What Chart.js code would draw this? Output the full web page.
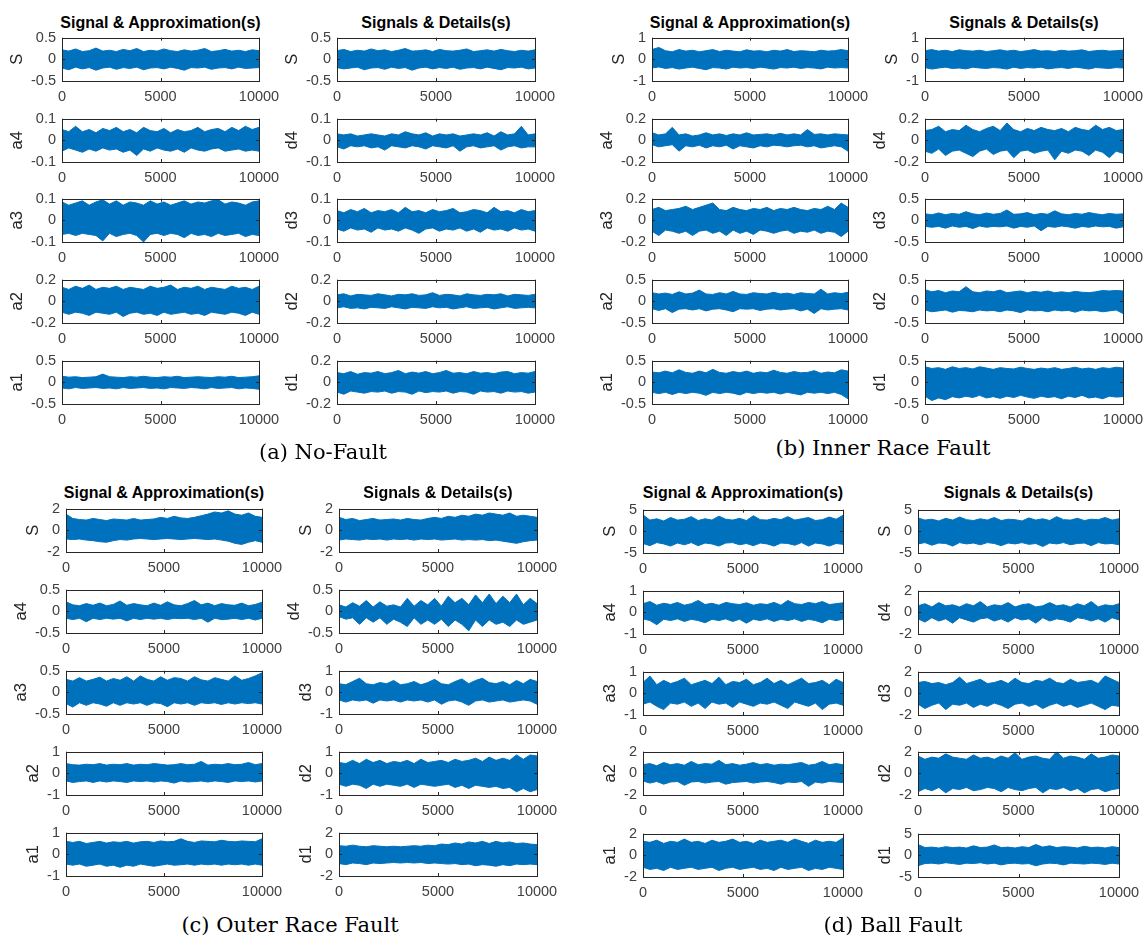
<!DOCTYPE html>
<html>
<head>
<meta charset="utf-8">
<script src="https://cdn.jsdelivr.net/npm/chart.js@4.4.1/dist/chart.umd.min.js"></script>
<style>
    html, body { margin: 0; padding: 0; background: #fff; }
    #fig { position: relative; width: 1146px; height: 938px; overflow: hidden; }
    #fig canvas { position: absolute; }
    .coltitle { position: absolute; font: bold 16px "Liberation Sans", Arial, sans-serif; color: #000; line-height: 20px; white-space: nowrap; transform: translateX(-50%); }
    .caption { position: absolute; font: 21px "DejaVu Serif", serif; color: #000; line-height: 26px; white-space: nowrap; transform: translateX(-50%); }
</style>
</head>
<body>
<div id="fig"></div>
<script>
// ---- axis labels / tick limits ----
const xTicks = [0, 5000, 10000];
const approxLabels = ['S', 'a4', 'a3', 'a2', 'a1'];
const detailLabels = ['S', 'd4', 'd3', 'd2', 'd1'];
const captions = ['(a) No-Fault', '(b) Inner Race Fault', '(c) Outer Race Fault', '(d) Ball Fault'];
const approxTitle = 'Signal & Approximation(s)';
const detailTitle = 'Signals & Details(s)';

const nfALim = [0.5, 0.1, 0.1, 0.2, 0.5];
const nfDLim = [0.5, 0.1, 0.1, 0.2, 0.2];
const irALim = [1, 0.2, 0.2, 0.5, 0.5];
const irDLim = [1, 0.2, 0.5, 0.5, 0.5];
const orALim = [2, 0.5, 0.5, 1, 1];
const orDLim = [2, 0.5, 1, 1, 2];
const bfALim = [5, 1, 1, 2, 2];
const bfDLim = [5, 2, 2, 2, 5];

// ---- signal envelopes (upper / lower), evenly spread over 0..10000 ----
// (a) No-Fault, approximations
const nfA_S_hi = [0.22,0.19,0.24,0.18,0.2,0.26,0.19,0.21,0.18,0.23,0.2,0.25,0.18,0.21,0.19,0.24,0.2,0.18,0.22,0.19,0.21,0.25,0.18,0.2,0.23,0.19,0.21,0.18,0.22,0.2];
const nfA_S_lo = [-0.2,-0.24,-0.18,-0.22,-0.19,-0.25,-0.2,-0.18,-0.23,-0.19,-0.21,-0.18,-0.24,-0.2,-0.19,-0.22,-0.18,-0.21,-0.25,-0.19,-0.2,-0.18,-0.23,-0.2,-0.19,-0.22,-0.18,-0.21,-0.2,-0.19];
const nfA_a4_hi = [0.05,0.04,0.065,0.04,0.05,0.035,0.055,0.045,0.06,0.04,0.05,0.035,0.06,0.045,0.04,0.055,0.035,0.05,0.04,0.045,0.06,0.04,0.05,0.055,0.04,0.06,0.045,0.065,0.05,0.06];
const nfA_a4_lo = [-0.05,-0.035,-0.045,-0.055,-0.04,-0.05,-0.035,-0.045,-0.04,-0.055,-0.045,-0.07,-0.04,-0.05,-0.035,-0.045,-0.05,-0.04,-0.055,-0.035,-0.045,-0.05,-0.04,-0.035,-0.05,-0.045,-0.04,-0.05,-0.045,-0.05];
const nfA_a3_hi = [0.085,0.07,0.08,0.09,0.07,0.085,0.095,0.075,0.09,0.07,0.085,0.08,0.07,0.09,0.075,0.085,0.07,0.08,0.09,0.075,0.085,0.08,0.09,0.095,0.075,0.085,0.08,0.07,0.085,0.09];
const nfA_a3_lo = [-0.065,-0.06,-0.07,-0.06,-0.065,-0.07,-0.095,-0.06,-0.075,-0.065,-0.06,-0.07,-0.1,-0.065,-0.06,-0.07,-0.06,-0.065,-0.08,-0.06,-0.07,-0.065,-0.075,-0.06,-0.07,-0.065,-0.06,-0.075,-0.065,-0.07];
const nfA_a2_hi = [0.13,0.11,0.14,0.12,0.15,0.11,0.13,0.12,0.14,0.11,0.13,0.12,0.11,0.14,0.12,0.13,0.15,0.11,0.13,0.12,0.14,0.11,0.13,0.12,0.11,0.14,0.12,0.13,0.11,0.14];
const nfA_a2_lo = [-0.1,-0.12,-0.1,-0.11,-0.13,-0.1,-0.11,-0.12,-0.1,-0.14,-0.11,-0.1,-0.12,-0.11,-0.13,-0.1,-0.12,-0.11,-0.1,-0.12,-0.11,-0.13,-0.1,-0.11,-0.12,-0.1,-0.11,-0.13,-0.1,-0.12];
const nfA_a1_hi = [0.14,0.12,0.13,0.11,0.12,0.13,0.19,0.13,0.12,0.11,0.13,0.12,0.14,0.12,0.11,0.13,0.12,0.14,0.11,0.12,0.13,0.12,0.11,0.13,0.12,0.14,0.11,0.12,0.13,0.15];
const nfA_a1_lo = [-0.13,-0.15,-0.12,-0.14,-0.13,-0.12,-0.14,-0.13,-0.15,-0.12,-0.14,-0.13,-0.12,-0.14,-0.13,-0.15,-0.12,-0.13,-0.14,-0.12,-0.13,-0.15,-0.12,-0.14,-0.13,-0.12,-0.15,-0.13,-0.14,-0.16];
// (a) No-Fault, details
const nfD_S_hi = [0.2,0.23,0.18,0.21,0.19,0.24,0.2,0.22,0.18,0.21,0.25,0.19,0.2,0.22,0.18,0.23,0.2,0.19,0.21,0.24,0.18,0.2,0.22,0.19,0.23,0.2,0.18,0.21,0.19,0.22];
const nfD_S_lo = [-0.19,-0.22,-0.2,-0.18,-0.24,-0.2,-0.19,-0.23,-0.18,-0.21,-0.19,-0.25,-0.2,-0.18,-0.22,-0.19,-0.21,-0.18,-0.23,-0.2,-0.19,-0.22,-0.18,-0.21,-0.24,-0.19,-0.2,-0.18,-0.22,-0.2];
const nfD_d4_hi = [0.03,0.025,0.03,0.02,0.025,0.03,0.025,0.02,0.03,0.025,0.04,0.03,0.025,0.035,0.02,0.03,0.025,0.03,0.02,0.025,0.03,0.025,0.035,0.02,0.04,0.025,0.03,0.065,0.025,0.03];
const nfD_d4_lo = [-0.03,-0.04,-0.025,-0.03,-0.025,-0.035,-0.03,-0.045,-0.025,-0.03,-0.035,-0.025,-0.03,-0.04,-0.025,-0.03,-0.035,-0.025,-0.05,-0.03,-0.025,-0.035,-0.03,-0.025,-0.045,-0.03,-0.025,-0.035,-0.03,-0.03];
const nfD_d3_hi = [0.045,0.035,0.05,0.04,0.055,0.035,0.045,0.04,0.05,0.035,0.06,0.04,0.045,0.035,0.05,0.04,0.045,0.055,0.035,0.04,0.05,0.045,0.035,0.06,0.04,0.045,0.035,0.05,0.04,0.045];
const nfD_d3_lo = [-0.04,-0.05,-0.035,-0.045,-0.04,-0.055,-0.035,-0.045,-0.04,-0.05,-0.035,-0.045,-0.06,-0.04,-0.035,-0.05,-0.04,-0.045,-0.035,-0.05,-0.04,-0.055,-0.035,-0.045,-0.04,-0.05,-0.035,-0.045,-0.04,-0.05];
const nfD_d2_hi = [0.06,0.07,0.05,0.065,0.06,0.055,0.07,0.06,0.05,0.065,0.06,0.07,0.055,0.06,0.08,0.055,0.065,0.06,0.05,0.07,0.06,0.055,0.065,0.06,0.07,0.05,0.065,0.06,0.055,0.065];
const nfD_d2_lo = [-0.06,-0.05,-0.065,-0.06,-0.07,-0.055,-0.06,-0.065,-0.05,-0.06,-0.07,-0.055,-0.06,-0.065,-0.05,-0.06,-0.055,-0.07,-0.06,-0.05,-0.065,-0.06,-0.055,-0.07,-0.06,-0.05,-0.065,-0.06,-0.055,-0.06];
const nfD_d1_hi = [0.09,0.08,0.1,0.075,0.09,0.085,0.1,0.08,0.09,0.11,0.08,0.095,0.085,0.1,0.08,0.09,0.11,0.085,0.09,0.08,0.1,0.085,0.09,0.08,0.095,0.1,0.08,0.09,0.085,0.1];
const nfD_d1_lo = [-0.09,-0.11,-0.08,-0.09,-0.1,-0.085,-0.09,-0.08,-0.1,-0.085,-0.09,-0.11,-0.08,-0.095,-0.085,-0.09,-0.08,-0.1,-0.085,-0.09,-0.11,-0.08,-0.09,-0.085,-0.1,-0.08,-0.09,-0.085,-0.1,-0.09];

// (b) Inner Race Fault, approximations
const irA_S_hi = [0.45,0.55,0.4,0.35,0.45,0.38,0.42,0.35,0.4,0.45,0.36,0.42,0.38,0.35,0.44,0.38,0.4,0.35,0.42,0.38,0.45,0.36,0.4,0.38,0.35,0.42,0.38,0.4,0.45,0.4];
const irA_S_lo = [-0.4,-0.35,-0.42,-0.38,-0.45,-0.4,-0.36,-0.42,-0.48,-0.38,-0.4,-0.45,-0.36,-0.4,-0.38,-0.42,-0.36,-0.4,-0.45,-0.38,-0.4,-0.36,-0.42,-0.38,-0.4,-0.44,-0.36,-0.4,-0.38,-0.4];
const irA_a4_hi = [0.07,0.05,0.06,0.12,0.05,0.06,0.04,0.05,0.07,0.05,0.06,0.045,0.06,0.05,0.07,0.05,0.055,0.06,0.05,0.065,0.05,0.06,0.05,0.1,0.055,0.06,0.05,0.06,0.055,0.05];
const irA_a4_lo = [-0.04,-0.06,-0.05,-0.04,-0.1,-0.05,-0.06,-0.045,-0.07,-0.05,-0.06,-0.045,-0.08,-0.05,-0.06,-0.07,-0.05,-0.06,-0.045,-0.05,-0.06,-0.05,-0.045,-0.06,-0.05,-0.07,-0.06,-0.05,-0.06,-0.1];
const irA_a3_hi = [0.1,0.12,0.09,0.1,0.11,0.13,0.1,0.12,0.14,0.16,0.1,0.09,0.12,0.1,0.09,0.11,0.1,0.12,0.09,0.11,0.1,0.12,0.1,0.09,0.11,0.1,0.13,0.1,0.16,0.12];
const irA_a3_lo = [-0.1,-0.14,-0.09,-0.1,-0.12,-0.1,-0.14,-0.1,-0.09,-0.12,-0.1,-0.14,-0.09,-0.12,-0.1,-0.13,-0.09,-0.1,-0.12,-0.1,-0.09,-0.12,-0.1,-0.11,-0.09,-0.12,-0.1,-0.11,-0.15,-0.1];
const irA_a2_hi = [0.2,0.17,0.19,0.16,0.22,0.17,0.19,0.26,0.17,0.16,0.2,0.17,0.23,0.17,0.16,0.2,0.18,0.17,0.21,0.17,0.19,0.16,0.2,0.18,0.17,0.28,0.17,0.2,0.18,0.21];
const irA_a2_lo = [-0.17,-0.21,-0.17,-0.26,-0.18,-0.17,-0.2,-0.17,-0.22,-0.18,-0.17,-0.2,-0.24,-0.17,-0.18,-0.17,-0.21,-0.18,-0.17,-0.2,-0.18,-0.17,-0.22,-0.18,-0.28,-0.17,-0.2,-0.18,-0.17,-0.2];
const irA_a1_hi = [0.24,0.22,0.26,0.22,0.29,0.23,0.21,0.26,0.22,0.3,0.23,0.21,0.25,0.22,0.26,0.21,0.24,0.22,0.28,0.23,0.21,0.25,0.22,0.23,0.27,0.21,0.24,0.22,0.29,0.26];
const irA_a1_lo = [-0.23,-0.26,-0.23,-0.28,-0.23,-0.26,-0.23,-0.25,-0.3,-0.23,-0.26,-0.23,-0.25,-0.29,-0.23,-0.26,-0.23,-0.25,-0.23,-0.27,-0.23,-0.26,-0.29,-0.23,-0.25,-0.23,-0.26,-0.23,-0.28,-0.38];
// (b) Inner Race Fault, details
const irD_S_hi = [0.4,0.45,0.38,0.42,0.36,0.44,0.4,0.38,0.42,0.36,0.4,0.44,0.38,0.42,0.36,0.4,0.45,0.38,0.4,0.36,0.42,0.38,0.4,0.44,0.36,0.4,0.42,0.38,0.4,0.42];
const irD_S_lo = [-0.38,-0.45,-0.4,-0.36,-0.42,-0.4,-0.44,-0.36,-0.4,-0.42,-0.38,-0.4,-0.45,-0.36,-0.42,-0.38,-0.4,-0.36,-0.44,-0.4,-0.38,-0.42,-0.36,-0.4,-0.45,-0.38,-0.4,-0.42,-0.38,-0.4];
const irD_d4_hi = [0.09,0.1,0.13,0.08,0.1,0.09,0.14,0.1,0.08,0.11,0.13,0.09,0.16,0.1,0.08,0.11,0.09,0.12,0.1,0.09,0.11,0.08,0.12,0.1,0.09,0.14,0.1,0.12,0.09,0.1];
const irD_d4_lo = [-0.1,-0.12,-0.08,-0.14,-0.1,-0.09,-0.12,-0.15,-0.1,-0.08,-0.13,-0.1,-0.09,-0.16,-0.1,-0.09,-0.12,-0.1,-0.09,-0.18,-0.1,-0.12,-0.09,-0.1,-0.14,-0.09,-0.11,-0.16,-0.1,-0.12];
const irD_d3_hi = [0.15,0.13,0.17,0.13,0.16,0.14,0.2,0.15,0.13,0.17,0.14,0.16,0.24,0.14,0.15,0.18,0.13,0.16,0.14,0.22,0.15,0.13,0.16,0.14,0.18,0.15,0.13,0.16,0.14,0.15];
const irD_d3_lo = [-0.14,-0.16,-0.14,-0.18,-0.13,-0.16,-0.14,-0.19,-0.13,-0.16,-0.14,-0.15,-0.13,-0.18,-0.14,-0.16,-0.13,-0.24,-0.14,-0.16,-0.13,-0.15,-0.18,-0.14,-0.16,-0.13,-0.15,-0.14,-0.18,-0.15];
const irD_d2_hi = [0.27,0.22,0.25,0.2,0.24,0.22,0.34,0.22,0.2,0.24,0.22,0.26,0.2,0.22,0.24,0.2,0.23,0.21,0.24,0.2,0.22,0.2,0.23,0.21,0.2,0.22,0.25,0.24,0.25,0.24];
const irD_d2_lo = [-0.2,-0.24,-0.22,-0.2,-0.25,-0.21,-0.22,-0.24,-0.2,-0.22,-0.21,-0.24,-0.2,-0.22,-0.26,-0.2,-0.22,-0.21,-0.24,-0.2,-0.22,-0.21,-0.25,-0.2,-0.22,-0.21,-0.24,-0.22,-0.2,-0.28];
const irD_d1_hi = [0.36,0.32,0.34,0.3,0.36,0.32,0.34,0.31,0.36,0.33,0.3,0.34,0.32,0.31,0.35,0.32,0.3,0.33,0.31,0.34,0.3,0.32,0.35,0.31,0.33,0.3,0.34,0.32,0.35,0.33];
const irD_d1_lo = [-0.32,-0.42,-0.36,-0.4,-0.33,-0.36,-0.32,-0.35,-0.3,-0.36,-0.33,-0.37,-0.32,-0.35,-0.3,-0.34,-0.37,-0.32,-0.35,-0.33,-0.38,-0.32,-0.35,-0.3,-0.36,-0.34,-0.38,-0.32,-0.34,-0.33];

// (c) Outer Race Fault, approximations
const orA_S_hi = [1.5,1.1,1.0,0.95,1.1,1.0,0.9,1.05,1.0,0.95,1.1,0.95,1.0,1.05,1.2,1.1,1.3,1.15,1.1,1.2,1.35,1.5,1.7,1.6,1.8,1.5,1.4,1.6,1.3,1.2];
const orA_S_lo = [-0.8,-0.85,-0.8,-0.9,-0.95,-1.05,-1.1,-0.95,-0.85,-0.9,-0.8,-0.75,-0.8,-0.85,-0.8,-0.75,-0.8,-0.85,-0.8,-0.75,-0.8,-0.85,-0.8,-0.9,-1.0,-1.2,-1.3,-1.1,-0.95,-1.1];
const orA_a4_hi = [0.22,0.15,0.13,0.18,0.14,0.19,0.13,0.16,0.24,0.14,0.18,0.15,0.13,0.19,0.14,0.22,0.15,0.13,0.18,0.25,0.15,0.19,0.13,0.18,0.15,0.14,0.19,0.13,0.16,0.21];
const orA_a4_lo = [-0.16,-0.19,-0.16,-0.24,-0.16,-0.19,-0.16,-0.18,-0.16,-0.22,-0.16,-0.19,-0.16,-0.18,-0.16,-0.19,-0.16,-0.17,-0.16,-0.19,-0.16,-0.25,-0.16,-0.19,-0.18,-0.16,-0.19,-0.16,-0.2,-0.16];
const orA_a3_hi = [0.3,0.26,0.34,0.26,0.3,0.35,0.26,0.32,0.28,0.36,0.26,0.38,0.3,0.26,0.36,0.28,0.34,0.32,0.26,0.36,0.29,0.26,0.34,0.3,0.26,0.38,0.28,0.32,0.38,0.45];
const orA_a3_lo = [-0.26,-0.34,-0.24,-0.3,-0.24,-0.27,-0.32,-0.24,-0.3,-0.24,-0.27,-0.24,-0.3,-0.24,-0.26,-0.33,-0.24,-0.27,-0.24,-0.3,-0.24,-0.26,-0.24,-0.28,-0.24,-0.27,-0.24,-0.26,-0.24,-0.27];
const orA_a2_hi = [0.45,0.4,0.38,0.42,0.4,0.45,0.38,0.42,0.4,0.45,0.38,0.42,0.4,0.45,0.42,0.38,0.4,0.45,0.4,0.42,0.55,0.38,0.42,0.4,0.45,0.4,0.42,0.5,0.4,0.45];
const orA_a2_lo = [-0.35,-0.42,-0.38,-0.35,-0.42,-0.35,-0.4,-0.35,-0.38,-0.42,-0.35,-0.38,-0.35,-0.4,-0.35,-0.38,-0.45,-0.35,-0.4,-0.38,-0.35,-0.4,-0.35,-0.38,-0.42,-0.35,-0.38,-0.35,-0.4,-0.35];
const orA_a1_hi = [0.6,0.55,0.6,0.5,0.55,0.6,0.52,0.58,0.55,0.6,0.52,0.58,0.6,0.55,0.62,0.58,0.6,0.72,0.6,0.55,0.62,0.6,0.58,0.65,0.6,0.58,0.62,0.6,0.58,0.72];
const orA_a1_lo = [-0.45,-0.5,-0.45,-0.55,-0.5,-0.45,-0.55,-0.5,-0.6,-0.5,-0.55,-0.45,-0.5,-0.55,-0.5,-0.45,-0.5,-0.48,-0.45,-0.5,-0.45,-0.48,-0.45,-0.5,-0.45,-0.48,-0.45,-0.5,-0.45,-0.5];
// (c) Outer Race Fault, details
const orD_S_hi = [1.2,1.0,1.1,0.9,1.0,1.1,0.95,1.0,1.05,0.95,1.1,1.0,0.95,1.1,1.2,1.1,1.3,1.2,1.4,1.3,1.5,1.4,1.6,1.5,1.4,1.6,1.3,1.4,1.3,1.2];
const orD_S_lo = [-0.9,-0.8,-0.85,-0.9,-0.8,-0.85,-0.8,-0.9,-0.8,-0.85,-0.8,-0.9,-0.8,-0.85,-0.8,-0.9,-0.85,-0.8,-0.9,-0.85,-0.9,-0.85,-0.95,-0.9,-1.0,-1.1,-1.2,-1.05,-0.95,-0.9];
const orD_d4_hi = [0.15,0.1,0.2,0.12,0.25,0.1,0.22,0.12,0.15,0.1,0.3,0.12,0.25,0.15,0.3,0.12,0.35,0.2,0.3,0.15,0.38,0.2,0.4,0.18,0.35,0.2,0.4,0.15,0.3,0.18];
const orD_d4_lo = [-0.12,-0.18,-0.15,-0.3,-0.15,-0.25,-0.15,-0.3,-0.18,-0.25,-0.35,-0.15,-0.3,-0.2,-0.3,-0.18,-0.35,-0.2,-0.3,-0.45,-0.2,-0.35,-0.2,-0.3,-0.25,-0.35,-0.2,-0.3,-0.25,-0.2];
const orD_d3_hi = [0.4,0.35,0.5,0.65,0.4,0.35,0.45,0.4,0.55,0.35,0.4,0.5,0.35,0.45,0.6,0.4,0.35,0.5,0.62,0.4,0.55,0.65,0.45,0.4,0.5,0.35,0.55,0.4,0.6,0.5];
const orD_d3_lo = [-0.35,-0.45,-0.35,-0.4,-0.35,-0.5,-0.35,-0.4,-0.35,-0.45,-0.35,-0.4,-0.35,-0.45,-0.35,-0.55,-0.4,-0.35,-0.45,-0.6,-0.4,-0.35,-0.45,-0.4,-0.35,-0.45,-0.4,-0.35,-0.4,-0.55];
const orD_d2_hi = [0.5,0.45,0.6,0.45,0.65,0.5,0.6,0.45,0.55,0.5,0.6,0.45,0.65,0.5,0.55,0.6,0.5,0.65,0.55,0.6,0.7,0.55,0.75,0.6,0.7,0.6,0.85,0.65,0.85,0.8];
const orD_d2_lo = [-0.5,-0.6,-0.5,-0.55,-0.7,-0.5,-0.6,-0.5,-0.55,-0.6,-0.5,-0.65,-0.5,-0.55,-0.6,-0.55,-0.5,-0.65,-0.55,-0.7,-0.55,-0.6,-0.65,-0.6,-0.7,-0.65,-0.85,-0.7,-0.85,-0.75];
const orD_d1_hi = [0.8,0.75,0.85,0.75,0.7,0.8,0.75,0.7,0.75,0.7,0.75,0.8,0.75,0.85,0.8,0.95,0.9,1.05,0.95,1.15,1.05,1.2,1.0,1.2,1.05,1.15,1.0,1.05,0.95,0.9];
const orD_d1_lo = [-0.85,-0.95,-0.8,-0.85,-0.95,-0.8,-0.85,-0.8,-0.75,-0.8,-0.75,-0.8,-0.75,-0.85,-0.8,-0.85,-0.9,-0.85,-0.95,-0.9,-1.05,-0.95,-1.0,-1.1,-0.95,-1.05,-0.9,-0.95,-0.9,-0.95];

// (d) Ball Fault, approximations
const bfA_S_hi = [3.8,2.6,2.9,2.4,3.2,2.6,2.8,3.4,2.5,2.9,2.6,3.5,2.8,2.6,3.0,2.5,3.6,2.7,2.6,3.0,2.7,3.4,2.6,2.9,3.2,2.5,2.7,3.3,2.8,3.7];
const bfA_S_lo = [-2.8,-3.3,-2.6,-2.9,-3.4,-2.7,-3.1,-2.6,-3.3,-2.7,-2.9,-3.4,-2.7,-2.6,-3.1,-2.8,-3.3,-2.7,-2.9,-3.4,-2.7,-2.8,-3.2,-2.6,-3.4,-2.7,-2.9,-3.4,-2.8,-3.0];
const bfA_a4_hi = [0.4,0.5,0.33,0.42,0.36,0.46,0.33,0.4,0.55,0.36,0.42,0.33,0.46,0.4,0.36,0.44,0.33,0.4,0.36,0.46,0.33,0.55,0.4,0.36,0.46,0.4,0.5,0.36,0.4,0.44];
const bfA_a4_lo = [-0.3,-0.38,-0.57,-0.32,-0.38,-0.3,-0.42,-0.32,-0.38,-0.48,-0.32,-0.38,-0.3,-0.42,-0.32,-0.5,-0.32,-0.38,-0.3,-0.42,-0.32,-0.38,-0.3,-0.42,-0.32,-0.38,-0.48,-0.32,-0.38,-0.32];
const bfA_a3_hi = [0.5,0.8,0.4,0.6,0.45,0.55,0.7,0.4,0.5,0.6,0.45,0.75,0.4,0.55,0.5,0.65,0.4,0.5,0.7,0.45,0.6,0.4,0.55,0.7,0.45,0.5,0.6,0.4,0.65,0.5];
const bfA_a3_lo = [-0.5,-0.4,-0.6,-0.75,-0.45,-0.5,-0.4,-0.6,-0.45,-0.7,-0.4,-0.5,-0.45,-0.65,-0.4,-0.5,-0.6,-0.45,-0.5,-0.4,-0.55,-0.7,-0.4,-0.5,-0.6,-0.45,-0.75,-0.5,-0.45,-0.55];
const bfA_a2_hi = [0.8,0.9,0.7,1.0,0.8,0.9,0.75,1.1,0.8,0.9,0.85,1.2,0.8,0.9,0.75,0.85,1.0,0.8,0.9,0.75,0.85,0.8,0.9,1.0,0.75,0.85,1.1,0.8,0.9,0.8];
const bfA_a2_lo = [-0.7,-0.9,-0.75,-1.0,-0.8,-0.75,-1.1,-0.8,-0.75,-0.9,-0.8,-0.75,-1.0,-0.85,-0.8,-0.75,-0.9,-0.8,-0.75,-0.85,-1.0,-0.8,-0.85,-0.75,-1.2,-0.8,-0.9,-0.75,-0.8,-0.85];
const bfA_a1_hi = [1.3,1.2,1.4,1.1,1.3,1.2,1.5,1.2,1.3,1.1,1.4,1.2,1.3,1.5,1.2,1.3,1.1,1.4,1.2,1.3,1.4,1.2,1.5,1.3,1.1,1.4,1.2,1.3,1.2,1.6];
const bfA_a1_lo = [-1.1,-1.3,-1.2,-1.4,-1.1,-1.3,-1.2,-1.1,-1.3,-1.2,-1.1,-1.4,-1.2,-1.1,-1.3,-1.2,-1.1,-1.3,-1.2,-1.4,-1.1,-1.3,-1.2,-1.1,-1.4,-1.2,-1.3,-1.1,-1.2,-1.3];
// (d) Ball Fault, details
const bfD_S_hi = [3.1,2.6,2.8,2.4,3.0,2.6,3.3,2.7,2.5,2.9,2.6,3.2,2.5,2.8,2.7,2.4,3.1,2.6,2.9,2.5,3.4,2.7,2.6,3.0,2.5,2.8,2.7,3.2,2.6,2.9];
const bfD_S_lo = [-2.9,-2.6,-3.2,-2.7,-2.8,-3.4,-2.6,-2.9,-2.7,-3.1,-2.6,-2.8,-3.3,-2.7,-2.9,-2.6,-3.0,-2.8,-3.5,-2.7,-2.9,-2.6,-3.1,-2.8,-2.7,-3.3,-2.6,-2.9,-2.8,-3.1];
const bfD_d4_hi = [0.6,0.8,0.5,0.9,0.6,0.7,0.5,0.8,0.6,1.0,0.5,0.7,0.6,0.9,0.5,0.7,0.8,0.5,0.6,0.9,0.6,0.7,0.5,0.8,0.6,1.0,0.5,0.7,0.6,0.8];
const bfD_d4_lo = [-0.6,-0.9,-0.5,-0.8,-0.6,-1.0,-0.5,-0.7,-0.9,-0.6,-0.5,-0.8,-0.6,-0.9,-0.5,-0.7,-0.6,-1.0,-0.5,-0.8,-0.6,-0.7,-0.9,-0.5,-0.6,-0.8,-0.6,-0.9,-0.5,-0.7];
const bfD_d3_hi = [1.0,1.1,0.9,1.0,0.8,1.0,1.5,0.9,1.1,1.3,0.9,1.0,1.2,0.9,1.4,1.0,0.9,1.2,1.1,1.4,1.0,0.9,1.3,1.0,1.1,1.2,0.9,1.6,1.3,1.0];
const bfD_d3_lo = [-1.0,-1.4,-1.1,-0.9,-1.5,-1.0,-1.1,-0.9,-1.3,-1.0,-1.2,-0.9,-1.1,-1.4,-1.0,-0.9,-1.2,-1.0,-1.4,-1.1,-0.9,-1.2,-1.0,-1.3,-1.1,-0.9,-1.2,-1.5,-1.1,-1.2];
const bfD_d2_hi = [1.6,1.3,1.5,1.4,1.8,1.5,1.4,1.3,1.7,1.4,1.5,1.3,1.6,1.4,1.9,1.3,1.5,1.6,1.4,1.3,2.0,1.4,1.6,1.5,1.3,1.8,1.4,1.5,1.7,1.6];
const bfD_d2_lo = [-1.7,-1.4,-1.6,-1.3,-1.8,-1.4,-1.5,-1.3,-1.6,-1.5,-1.3,-1.4,-1.7,-1.3,-1.5,-1.6,-1.4,-1.3,-1.8,-1.4,-1.5,-1.3,-1.6,-1.4,-1.8,-1.5,-1.4,-1.7,-1.5,-1.4];
const bfD_d1_hi = [2.5,1.8,1.9,1.7,2.0,1.8,1.9,1.7,2.2,1.8,1.9,2.4,1.8,1.9,1.7,2.0,1.8,2.5,1.9,2.2,1.8,2.0,1.9,1.7,2.1,1.8,1.9,1.7,2.0,1.8];
const bfD_d1_lo = [-2.4,-1.9,-1.8,-2.0,-1.7,-1.9,-2.1,-1.8,-1.9,-1.7,-2.0,-1.8,-2.2,-1.9,-1.8,-2.0,-1.9,-2.4,-2.0,-1.8,-1.9,-2.2,-1.8,-1.9,-2.0,-1.8,-1.9,-2.1,-1.8,-2.0];

// ---- grouping per column ----
const nfA = [[nfA_S_hi, nfA_S_lo], [nfA_a4_hi, nfA_a4_lo], [nfA_a3_hi, nfA_a3_lo], [nfA_a2_hi, nfA_a2_lo], [nfA_a1_hi, nfA_a1_lo]];
const nfD = [[nfD_S_hi, nfD_S_lo], [nfD_d4_hi, nfD_d4_lo], [nfD_d3_hi, nfD_d3_lo], [nfD_d2_hi, nfD_d2_lo], [nfD_d1_hi, nfD_d1_lo]];
const irA = [[irA_S_hi, irA_S_lo], [irA_a4_hi, irA_a4_lo], [irA_a3_hi, irA_a3_lo], [irA_a2_hi, irA_a2_lo], [irA_a1_hi, irA_a1_lo]];
const irD = [[irD_S_hi, irD_S_lo], [irD_d4_hi, irD_d4_lo], [irD_d3_hi, irD_d3_lo], [irD_d2_hi, irD_d2_lo], [irD_d1_hi, irD_d1_lo]];
const orA = [[orA_S_hi, orA_S_lo], [orA_a4_hi, orA_a4_lo], [orA_a3_hi, orA_a3_lo], [orA_a2_hi, orA_a2_lo], [orA_a1_hi, orA_a1_lo]];
const orD = [[orD_S_hi, orD_S_lo], [orD_d4_hi, orD_d4_lo], [orD_d3_hi, orD_d3_lo], [orD_d2_hi, orD_d2_lo], [orD_d1_hi, orD_d1_lo]];
const bfA = [[bfA_S_hi, bfA_S_lo], [bfA_a4_hi, bfA_a4_lo], [bfA_a3_hi, bfA_a3_lo], [bfA_a2_hi, bfA_a2_lo], [bfA_a1_hi, bfA_a1_lo]];
const bfD = [[bfD_S_hi, bfD_S_lo], [bfD_d4_hi, bfD_d4_lo], [bfD_d3_hi, bfD_d3_lo], [bfD_d2_hi, bfD_d2_lo], [bfD_d1_hi, bfD_d1_lo]];

// ---- layout (pixel boxes of each axes) ----
const BLUE = '#0072BD';
const TICK_COLOR = '#404040';
const TICK_FONT = { family: '"Liberation Sans", Arial, sans-serif', size: 14.5 };
const YLABEL_SIZE = 16.5;
const BOX_H = 46;
const Y_AXIS_W = 60, PAD_TOP = 12, PAD_RIGHT = 30, X_AXIS_H = 30;

const panels = [
    { caption: captions[0], capX: 323, capY: 439, titleY: 13,
      cols: [ { x0: 62, x1: 259, tops: [35, 116, 196, 277, 358], series: nfA, lim: nfALim, labels: approxLabels, title: approxTitle },
              { x0: 337, x1: 535, tops: [35, 116, 196, 277, 358], series: nfD, lim: nfDLim, labels: detailLabels, title: detailTitle } ] },
    { caption: captions[1], capX: 883, capY: 435, titleY: 13,
      cols: [ { x0: 652, x1: 848, tops: [35, 116, 196, 277, 358], series: irA, lim: irALim, labels: approxLabels, title: approxTitle },
              { x0: 925, x1: 1123, tops: [35, 116, 196, 277, 358], series: irD, lim: irDLim, labels: detailLabels, title: detailTitle } ] },
    { caption: captions[2], capX: 290, capY: 912, titleY: 483,
      cols: [ { x0: 66, x1: 262, tops: [506, 587, 668, 749, 830], series: orA, lim: orALim, labels: approxLabels, title: approxTitle },
              { x0: 339, x1: 537, tops: [506, 587, 668, 749, 830], series: orD, lim: orDLim, labels: detailLabels, title: detailTitle } ] },
    { caption: captions[3], capX: 893, capY: 912, titleY: 483,
      cols: [ { x0: 643, x1: 843, tops: [507, 588, 669, 749, 831], series: bfA, lim: bfALim, labels: approxLabels, title: approxTitle },
              { x0: 918, x1: 1119, tops: [507, 588, 669, 749, 831], series: bfD, lim: bfDLim, labels: detailLabels, title: detailTitle } ] },
];

const fig = document.getElementById('fig');
const measureCtx = document.createElement('canvas').getContext('2d');
measureCtx.font = '14.5px "Liberation Sans", Arial, sans-serif';

const xAt = (i, n) => i * 10000 / (n - 1);
const fmt = v => String(Math.round(v * 1000) / 1000);

// box + inward tick marks, like MATLAB axes
const axesBox = {
    id: 'axesBox',
    afterDatasetsDraw(chart) {
        const { ctx, chartArea: a, scales: { x, y } } = chart;
        ctx.save();
        ctx.strokeStyle = '#262626';
        ctx.lineWidth = 1;
        ctx.beginPath();
        x.ticks.forEach(t => {
            const px = Math.round(x.getPixelForValue(t.value)) + 0.5;
            ctx.moveTo(px, a.top); ctx.lineTo(px, a.top + 3);
            ctx.moveTo(px, a.bottom); ctx.lineTo(px, a.bottom - 3);
        });
        y.ticks.forEach(t => {
            const py = Math.round(y.getPixelForValue(t.value)) + 0.5;
            ctx.moveTo(a.left, py); ctx.lineTo(a.left + 3, py);
            ctx.moveTo(a.right, py); ctx.lineTo(a.right - 3, py);
        });
        ctx.stroke();
        ctx.strokeRect(Math.round(a.left) + 0.5, Math.round(a.top) + 0.5, Math.round(a.right - a.left), Math.round(a.bottom - a.top));
        ctx.restore();
    }
};

function addText(cls, text, x, y) {
    const d = document.createElement('div');
    d.className = cls;
    d.textContent = text;
    d.style.left = x + 'px';
    d.style.top = y + 'px';
    fig.appendChild(d);
}

function drawAxes(x0, x1, top, hi, lo, m, label) {
    const w = x1 - x0;
    const canvas = document.createElement('canvas');
    canvas.width = w + Y_AXIS_W + PAD_RIGHT;
    canvas.height = BOX_H + PAD_TOP + X_AXIS_H;
    canvas.style.left = (x0 - Y_AXIS_W) + 'px';
    canvas.style.top = (top - PAD_TOP) + 'px';
    fig.appendChild(canvas);

    // put the ylabel just left of the widest tick label
    const labelW = Math.max(measureCtx.measureText(fmt(-m)).width, measureCtx.measureText(fmt(m)).width);
    const titlePad = Math.max(0, Y_AXIS_W - (labelW + 20) - YLABEL_SIZE * 0.6);

    new Chart(canvas, {
        type: 'line',
        data: {
            datasets: [
                { data: hi.map((v, i) => ({ x: xAt(i, hi.length), y: v })), borderColor: BLUE, backgroundColor: BLUE, borderWidth: 1, pointRadius: 0, fill: '+1' },
                { data: lo.map((v, i) => ({ x: xAt(i, lo.length), y: v })), borderColor: BLUE, borderWidth: 1, pointRadius: 0, fill: false },
            ]
        },
        options: {
            responsive: false,
            animation: false,
            events: [],
            layout: { padding: { left: 0, right: PAD_RIGHT, top: PAD_TOP, bottom: 0 } },
            plugins: { legend: { display: false }, tooltip: { enabled: false } },
            scales: {
                x: {
                    type: 'linear', min: 0, max: 10000,
                    grid: { display: false, drawTicks: false },
                    border: { display: false },
                    ticks: { padding: 7, color: TICK_COLOR, font: TICK_FONT, maxRotation: 0, autoSkip: false, callback: v => fmt(v) },
                    afterBuildTicks: s => { s.ticks = xTicks.map(v => ({ value: v })); },
                    afterFit: s => { s.height = X_AXIS_H; },
                },
                y: {
                    type: 'linear', min: -m, max: m,
                    grid: { display: false, drawTicks: false },
                    border: { display: false },
                    ticks: { padding: 6, color: TICK_COLOR, font: TICK_FONT, autoSkip: false, callback: v => fmt(v) },
                    afterBuildTicks: s => { s.ticks = [-m, 0, m].map(v => ({ value: v })); },
                    afterFit: s => { s.width = Y_AXIS_W; },
                    title: { display: true, text: label, color: '#262626', font: { family: '"Liberation Sans", Arial, sans-serif', size: YLABEL_SIZE }, padding: { top: titlePad, bottom: 0 } },
                },
            }
        },
        plugins: [axesBox]
    });
}

panels.forEach(p => {
    p.cols.forEach(c => {
        addText('coltitle', c.title, (c.x0 + c.x1) / 2, p.titleY);
        c.series.forEach(([hi, lo], r) => drawAxes(c.x0, c.x1, c.tops[r], hi, lo, c.lim[r], c.labels[r]));
    });
    addText('caption', p.caption, p.capX, p.capY);
});
</script>
</body>
</html>
